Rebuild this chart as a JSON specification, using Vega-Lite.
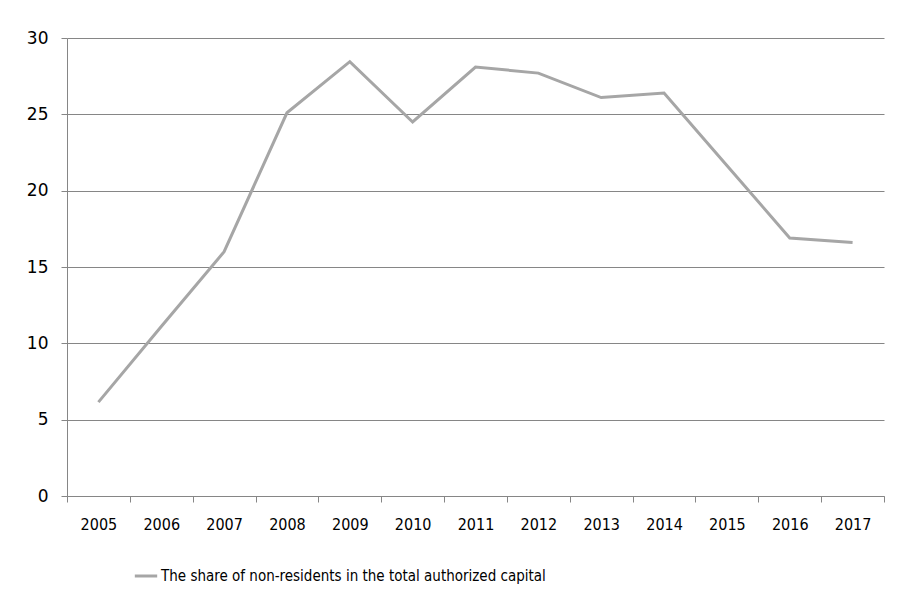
{
  "$schema": "https://vega.github.io/schema/vega-lite/v6.json",
  "autosize": "none",
  "width": 817,
  "height": 458,
  "padding": {"left": 67, "top": 38, "right": 14, "bottom": 108},
  "background": "white",
  "data": {
    "values": [
      {"year": "2005", "share": 6.15, "series": "The share of non-residents in the total authorized capital"},
      {"year": "2006", "share": 11.1, "series": "The share of non-residents in the total authorized capital"},
      {"year": "2007", "share": 16.0, "series": "The share of non-residents in the total authorized capital"},
      {"year": "2008", "share": 25.1, "series": "The share of non-residents in the total authorized capital"},
      {"year": "2009", "share": 28.45, "series": "The share of non-residents in the total authorized capital"},
      {"year": "2010", "share": 24.5, "series": "The share of non-residents in the total authorized capital"},
      {"year": "2011", "share": 28.1, "series": "The share of non-residents in the total authorized capital"},
      {"year": "2012", "share": 27.7, "series": "The share of non-residents in the total authorized capital"},
      {"year": "2013", "share": 26.1, "series": "The share of non-residents in the total authorized capital"},
      {"year": "2014", "share": 26.4, "series": "The share of non-residents in the total authorized capital"},
      {"year": "2015", "share": 21.65, "series": "The share of non-residents in the total authorized capital"},
      {"year": "2016", "share": 16.9, "series": "The share of non-residents in the total authorized capital"},
      {"year": "2017", "share": 16.6, "series": "The share of non-residents in the total authorized capital"}
    ]
  },
  "mark": {"type": "line", "strokeWidth": 3, "strokeJoin": "miter"},
  "encoding": {
    "x": {
      "field": "year",
      "type": "ordinal",
      "scale": {"type": "band", "paddingInner": 0, "paddingOuter": 0},
      "axis": {
        "title": null,
        "labelAngle": 0,
        "tickBand": "extent",
        "grid": false,
        "domainColor": "#868686",
        "tickColor": "#868686",
        "tickSize": 6,
        "labelFont": "DejaVu Sans Condensed, Liberation Sans Narrow, sans-serif",
        "labelFontSize": 16,
        "labelColor": "#000000",
        "labelPadding": 14
      }
    },
    "y": {
      "field": "share",
      "type": "quantitative",
      "scale": {"domain": [0, 30], "nice": false},
      "axis": {
        "title": null,
        "values": [0, 5, 10, 15, 20, 25, 30],
        "grid": true,
        "gridColor": "#868686",
        "gridWidth": 1,
        "domain": true,
        "domainColor": "#868686",
        "tickColor": "#868686",
        "tickSize": 6,
        "labelFont": "DejaVu Sans, sans-serif",
        "labelFontSize": 17,
        "labelColor": "#000000",
        "labelPadding": 13
      }
    },
    "color": {
      "field": "series",
      "type": "nominal",
      "scale": {"range": ["#a6a6a6"]},
      "legend": {
        "title": null,
        "orient": "none",
        "legendX": 66,
        "legendY": 525,
        "symbolType": "stroke",
        "symbolStrokeWidth": 3,
        "symbolSize": 500,
        "labelFont": "DejaVu Sans Condensed, Liberation Sans Narrow, sans-serif",
        "labelFontSize": 15,
        "labelColor": "#000000",
        "labelLimit": 600,
        "labelOffset": 2
      }
    }
  },
  "config": {"view": {"stroke": null}}
}
